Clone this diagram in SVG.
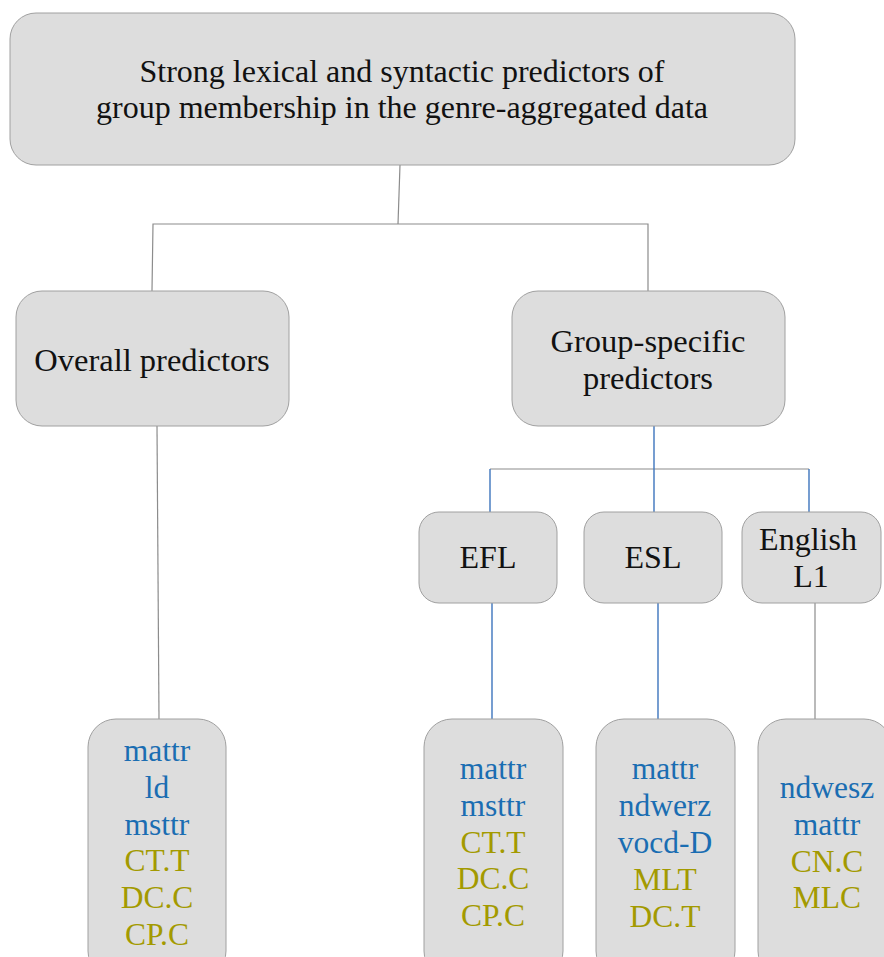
<svg xmlns="http://www.w3.org/2000/svg" width="884" height="957" viewBox="0 0 884 957">
  <style>
    .box { fill: #dddddd; stroke: #a0a0a0; stroke-width: 1; }
    .lbl { font-family: "Liberation Serif", "Times New Roman", serif; font-size: 32.5px; fill: #111111; text-anchor: middle; }
    .small { font-size: 32px; }
    .item { font-family: "Liberation Serif", "Times New Roman", serif; font-size: 31.5px; text-anchor: middle; }
    .lex { fill: #1a6db2; }
    .syn { fill: #a39a00; }
    .gray { stroke: #8c8c8c; stroke-width: 1.2; fill: none; }
    .blue { stroke: #3d74bd; stroke-width: 1.4; fill: none; }
  </style>
  <rect width="884" height="957" fill="#ffffff"/>

  <!-- connectors -->
  <g id="connectors">
    <polyline class="gray" points="400,165 398,224"/>
    <polyline class="gray" points="152,291 153,224 648,224 648,291"/>
    <line class="gray" x1="157" y1="426" x2="159" y2="719"/>
    <line class="gray" x1="490" y1="469" x2="809" y2="469"/>
    <line class="blue" x1="654" y1="426" x2="654" y2="512"/>
    <line class="blue" x1="490" y1="469" x2="490" y2="512"/>
    <line class="blue" x1="809" y1="469" x2="809" y2="512"/>
    <line class="blue" x1="492" y1="603" x2="492" y2="719"/>
    <line class="blue" x1="658" y1="603" x2="658" y2="719"/>
    <line class="gray" x1="815" y1="603" x2="815" y2="719"/>
  </g>

  <g id="root">
    <rect class="box" x="10" y="13" width="785" height="152" rx="26"/>
    <text class="lbl" x="402" y="82" textLength="525" lengthAdjust="spacingAndGlyphs">Strong lexical and syntactic predictors of</text>
    <text class="lbl" x="402" y="118" textLength="612" lengthAdjust="spacingAndGlyphs">group membership in the genre-aggregated data</text>
  </g>

  <g id="overall">
    <rect class="box" x="16" y="291" width="273" height="135" rx="26"/>
    <text class="lbl" x="152" y="371">Overall predictors</text>
  </g>

  <g id="group-specific">
    <rect class="box" x="512" y="291" width="273" height="135" rx="26"/>
    <text class="lbl" x="648" y="352">Group-specific</text>
    <text class="lbl" x="648" y="389">predictors</text>
  </g>

  <g id="efl">
    <rect class="box" x="419" y="512" width="138" height="91" rx="20"/>
    <text class="lbl small" x="488" y="568">EFL</text>
  </g>

  <g id="esl">
    <rect class="box" x="584" y="512" width="138" height="91" rx="20"/>
    <text class="lbl small" x="653" y="568">ESL</text>
  </g>

  <g id="english-l1">
    <rect class="box" x="742" y="512" width="139" height="91" rx="20"/>
    <text class="lbl small" x="808" y="550">English</text>
    <text class="lbl small" x="811" y="587">L1</text>
  </g>

  <g id="overall-list">
    <rect class="box" x="88" y="719" width="138" height="260" rx="28"/>
    <text class="item lex" x="157" y="761">mattr</text>
    <text class="item lex" x="157" y="798">ld</text>
    <text class="item lex" x="157" y="835">msttr</text>
    <text class="item syn" x="157" y="871">CT.T</text>
    <text class="item syn" x="157" y="908">DC.C</text>
    <text class="item syn" x="157" y="945">CP.C</text>
  </g>

  <g id="efl-list">
    <rect class="box" x="424" y="719" width="139" height="260" rx="28"/>
    <text class="item lex" x="493" y="779">mattr</text>
    <text class="item lex" x="493" y="816">msttr</text>
    <text class="item syn" x="493" y="853">CT.T</text>
    <text class="item syn" x="493" y="889">DC.C</text>
    <text class="item syn" x="493" y="926">CP.C</text>
  </g>

  <g id="esl-list">
    <rect class="box" x="596" y="719" width="139" height="260" rx="28"/>
    <text class="item lex" x="665" y="779">mattr</text>
    <text class="item lex" x="665" y="816">ndwerz</text>
    <text class="item lex" x="665" y="853">vocd-D</text>
    <text class="item syn" x="665" y="890">MLT</text>
    <text class="item syn" x="665" y="927">DC.T</text>
  </g>

  <g id="english-l1-list">
    <rect class="box" x="758" y="719" width="134" height="260" rx="28"/>
    <text class="item lex" x="827" y="798">ndwesz</text>
    <text class="item lex" x="827" y="835">mattr</text>
    <text class="item syn" x="827" y="872">CN.C</text>
    <text class="item syn" x="827" y="908">MLC</text>
  </g>
</svg>
